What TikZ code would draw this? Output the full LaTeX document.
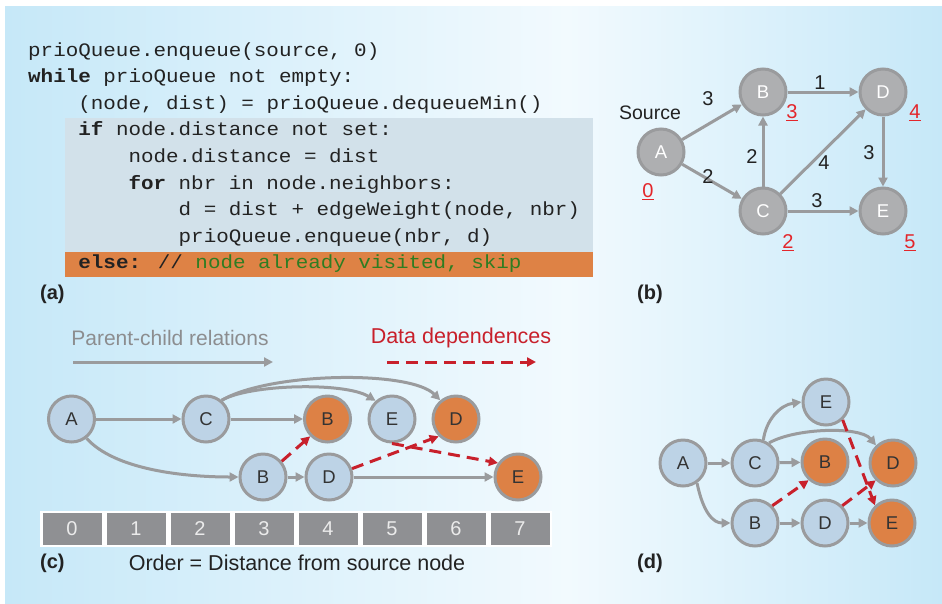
\documentclass[tikz,border=0pt]{standalone}
\usepackage{fontspec}
\setmainfont{Liberation Sans}
\newfontfamily\codefont[FakeStretch=1.1]{Liberation Mono}
\usetikzlibrary{arrows.meta}
\definecolor{bgblue}{HTML}{C6E8F8}
\definecolor{bgwhite}{HTML}{F2FAFE}
\definecolor{codegray}{HTML}{D2E1EA}
\definecolor{codeorange}{HTML}{DE8245}
\definecolor{cmtgreen}{HTML}{2F7D22}
\definecolor{codetext}{HTML}{222222}
\definecolor{edgegray}{HTML}{9A9B9D}
\definecolor{nodegray}{HTML}{AEAFB1}
\definecolor{nodeblue}{HTML}{BDD3E6}
\definecolor{nodeorange}{HTML}{DD8145}
\definecolor{lettergray}{HTML}{333333}
\definecolor{depred}{HTML}{C8202B}
\definecolor{numred}{HTML}{E3262B}
\definecolor{cellgray}{HTML}{8F9093}
\definecolor{legendgray}{HTML}{8C8D8F}
\pgfdeclarehorizontalshading{bgshade}{100bp}{color(0bp)=(bgblue); color(25bp)=(bgblue); color(55bp)=(bgwhite); color(75bp)=(bgblue); color(100bp)=(bgblue)}
\newcommand\redul[1]{{\setbox0\hbox{#1}\rlap{\raisebox{-3pt}{\rule{\wd0}{1.3pt}}}\box0}}
\begin{document}
\begin{tikzpicture}[x=1pt,y=-1pt,
  code/.style={anchor=base west, inner sep=0, font=\codefont\fontsize{19}{22}\selectfont, text=codetext},
  gnode/.style={circle, draw=edgegray, line width=3pt, minimum size=46pt, inner sep=0, fill=nodegray, text=white, font=\fontsize{18.5}{20}\selectfont},
  bnode/.style={gnode, fill=nodeblue, text=lettergray},
  onode/.style={gnode, fill=nodeorange, text=lettergray},
  pc/.style={draw=edgegray, line width=3pt, -{Triangle[length=9pt,width=9pt]}},
  dep/.style={draw=depred, line width=3pt, dash pattern=on 12pt off 7pt, -{Triangle[length=9pt,width=9pt]}},
  panel/.style={font=\bfseries\fontsize{20}{22}\selectfont, anchor=west, inner sep=0, text=codetext},
  elab/.style={font=\fontsize{20}{22}\selectfont, text=codetext, inner sep=0},
  dlab/.style={font=\fontsize{20}{22}\selectfont, text=numred, inner sep=0},
  cell/.style={fill=cellgray, draw=none, minimum width=59pt, minimum height=32pt, inner sep=0, text=white!92!black, font=\fontsize{20}{22}\selectfont}
]
\useasboundingbox (0,0) rectangle (942,603);
\fill[white] (0,0) rectangle (942,603);
\shade[shading=bgshade] (5,6) rectangle (942,603);

% ---------- (a) code ----------
\fill[codegray] (65,118) rectangle (593,252);
\fill[codeorange] (65,252) rectangle (593,277);
\node[code] (l1) at (28,56) {prioQueue.enqueue(source, 0)};
\node[code] (l2) at (28,82.6) {\textbf{while} prioQueue not empty:};
\node[code] (l3) at (78.2,109.2) {(node, dist) = prioQueue.dequeueMin()};
\node[code] (l4) at (78.2,135.8) {\textbf{if} node.distance not set:};
\node[code] (l5) at (128.3,162.4) {node.distance = dist};
\node[code] (l6) at (128.3,189) {\textbf{for} nbr in node.neighbors:};
\node[code] (l7) at (178.5,215.6) {d = dist + edgeWeight(node, nbr)};
\node[code] (l8) at (178.5,242.2) {prioQueue.enqueue(nbr, d)};
\node[code] (l9) at (78.2,268.8) {\textbf{else:} // \textcolor{cmtgreen}{node already visited, skip}};
\node[panel] (pa) at (40,294) {(a)};

% ---------- (b) graph ----------
\node[gnode] (bA) at (661,152) {A};
\node[gnode] (bB) at (763,92) {B};
\node[gnode] (bC) at (763,211) {C};
\node[gnode] (bD) at (883,92) {D};
\node[gnode] (bE) at (883,211) {E};
\draw[pc] (bA) -- (bB);
\draw[pc] (bA) -- (bC);
\draw[pc] (bB) -- (bD);
\draw[pc] (bC) -- (bB);
\draw[pc] (bC) -- (bD);
\draw[pc] (bC) -- (bE);
\draw[pc] (bD) -- (bE);
\node[font=\fontsize{19.5}{22}\selectfont, text=codetext, inner sep=0] (src) at (650,113) {Source};
\node[elab] (wAB) at (708,99) {3};
\node[elab] (wAC) at (708,177) {2};
\node[elab] (wBD) at (820,83) {1};
\node[elab] (wCB) at (752,157) {2};
\node[elab] (wCD) at (824,163) {4};
\node[elab] (wDE) at (869,153) {3};
\node[elab] (wCE) at (817,201) {3};
\node[dlab] (dA) at (648,192) {\redul{0}};
\node[dlab] (dB) at (792,113) {\redul{3}};
\node[dlab] (dC) at (788,243) {\redul{2}};
\node[dlab] (dD) at (915,113) {\redul{4}};
\node[dlab] (dE) at (910,243) {\redul{5}};
\node[panel] (pb) at (637,294) {(b)};

% ---------- (c) ----------
\node[font=\fontsize{21}{23}\selectfont, text=legendgray, inner sep=0] (lgpc) at (170,338) {Parent-child relations};
\node[font=\fontsize{21.5}{23}\selectfont, text=depred, inner sep=0] (lgdd) at (461,338) {Data dependences};
\coordinate (pcs) at (73,362);
\coordinate (pce) at (273,362);
\coordinate (dds) at (387,362);
\coordinate (dde) at (536,362);
\draw[pc] (pcs) -- (pce);
\draw[dep] (dds) -- (dde);

\fill[white] (40,511) rectangle (552,547);
\foreach \i in {0,...,7} {
  \node[cell] (cell\i) at (72+64*\i,529) {\i};
}
\node[panel] (pc) at (40,563) {(c)};
\node[font=\fontsize{21.5}{23}\selectfont, text=codetext, inner sep=0] (order) at (297,563) {Order = Distance from source node};

\node[bnode] (cA) at (71.5,419) {A};
\node[bnode] (cC) at (206,419) {C};
\node[onode] (cB2) at (327.5,419) {B};
\node[bnode] (cE1) at (392,419) {E};
\node[onode] (cD2) at (456,419) {D};
\node[bnode] (cB) at (263,477) {B};
\node[bnode] (cD) at (329,477) {D};
\node[onode] (cE2) at (518,477) {E};
\draw[pc] (cA) -- (cC);
\draw[pc] (cC) -- (cB2);
\draw[pc] (cC.50) .. controls (250,384) and (345,382) .. (cE1.132);
\draw[pc] (cC.50) .. controls (270,372) and (410,370) .. (cD2.130);
\draw[pc] (cA.-52) .. controls (115,470) and (185,477) .. (cB.west);
\draw[pc] (cB) -- (cD);
\draw[pc] (cD) -- (cE2);
\draw[dep] (cB.40) -- (cB2.225);
\draw[dep] (cD.20) -- (cD2.225);
\draw[dep] (cE1.south) -- (cE2.145);

% ---------- (d) ----------
\node[bnode] (dA1) at (683,463) {A};
\node[bnode] (dC1) at (755,463) {C};
\node[onode] (dB2) at (825,462) {B};
\node[onode] (dD2) at (893,463) {D};
\node[bnode] (dE1) at (826,402) {E};
\node[bnode] (dB1) at (755,523) {B};
\node[bnode] (dD1) at (825,523) {D};
\node[onode] (dE2) at (892,523) {E};
\draw[pc] (dA1) -- (dC1);
\draw[pc] (dC1) -- (dB2);
\draw[pc] (dB1) -- (dD1);
\draw[pc] (dD1) -- (dE2);
\draw[pc] (dC1.70) .. controls (766,420) and (780,405) .. (dE1.west);
\draw[pc] (dC1.55) .. controls (795,428) and (860,426) .. (dD2.134);
\draw[pc] (dA1.-55) .. controls (703,512) and (713,523) .. (dB1.west);
\draw[dep] (dB1.45) -- (dB2.228);
\draw[dep] (dD1.45) -- (dD2.225);
\draw[dep] (dE1.-47) -- (dE2.134);
\node[panel] (pd) at (637,563) {(d)};
\end{tikzpicture}
\end{document}
